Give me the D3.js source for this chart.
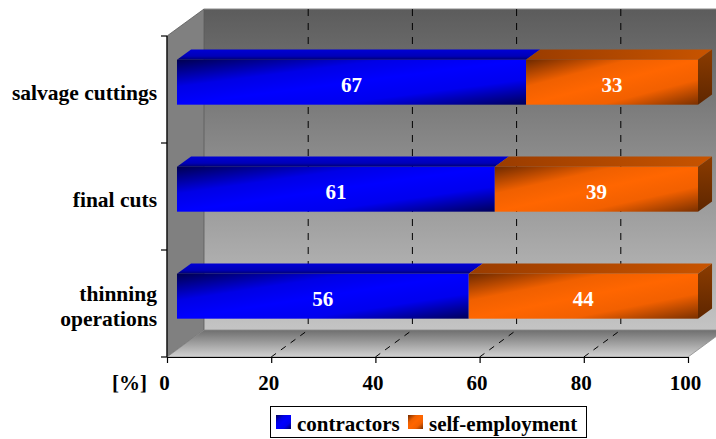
<!DOCTYPE html>
<html>
<head>
<meta charset="utf-8">
<script src="https://cdn.jsdelivr.net/npm/d3@7"></script>
<style>
  html, body { margin: 0; padding: 0; background: #fff; }
  svg { display: block; }
  text { font-family: "Liberation Serif", "Times New Roman", serif; font-weight: bold; }
</style>
</head>
<body>
<svg id="chart" width="716" height="439"></svg>
<script>
// ---- data ----
const categories = ["salvage cuttings", "final cuts", "thinning\noperations"];
const contractors = [67, 61, 56];
const selfEmployment = [33, 39, 44];
const seriesNames = ["contractors", "self-employment"];
const xTicks = [0, 20, 40, 60, 80, 100];
const gridValues = [20, 40, 60, 80];
const axisUnit = "[%]";

// ---- layout ----
const svg = d3.select("#chart");
const x = d3.scaleLinear().domain([0, 100]).range([167, 688]);
const y = d3.scaleBand().domain(categories).range([36, 357]);
const DX = 37, DY = -27;           // depth offset of back wall
const F1 = 0.27, F2 = 0.65;        // bar front/back depth fraction
const barFrac = 0.42;
const yFloor = 357, yTop = 36;

const P = (v, yy, f) => [x(v) + f * DX, yy + f * DY];
const poly = pts => pts.map(p => p.join(",")).join(" ");

const defs = svg.append("defs");
function lin(id, attrs, stops) {
  const g = defs.append("linearGradient").attr("id", id);
  Object.entries(attrs).forEach(([k, v]) => g.attr(k, v));
  stops.forEach(([o, c]) => g.append("stop").attr("offset", o).attr("stop-color", c));
}
lin("gWall", {gradientUnits: "userSpaceOnUse", x1: 0, y1: yTop + DY, x2: 0, y2: yFloor + DY},
    [[0, "#5c5c5c"], [1, "#c4c4c4"]]);
lin("gFloor", {gradientUnits: "userSpaceOnUse", x1: 0, y1: yFloor + DY, x2: 0, y2: yFloor},
    [[0, "#6e6e6e"], [1, "#d2d2d2"]]);
lin("gBlueFront", {x1: 0, y1: 0, x2: 1, y2: 1},
    [[0, "#000050"], [0.3, "#0000e6"], [0.5, "#0000ff"], [0.72, "#0000ee"], [1, "#00005a"]]);
lin("gBlueTop", {x1: 0, y1: 1, x2: 0, y2: 0},
    [[0, "#000070"], [0.35, "#0000b8"], [1, "#0000d4"]]);
lin("gOrangeFront", {x1: 0, y1: 0, x2: 1, y2: 1},
    [[0, "#6e2a00"], [0.3, "#f06000"], [0.5, "#ff6600"], [0.72, "#f26000"], [1, "#7a3000"]]);
lin("gOrangeTop", {x1: 0, y1: 0, x2: 1, y2: 0},
    [[0, "#9a3c00"], [1, "#c85400"]]);
lin("gOrangeSide", {x1: 0, y1: 0, x2: 0, y2: 1},
    [[0, "#8c3c00"], [1, "#5e2600"]]);

// ---- walls ----
svg.append("rect")
  .attr("x", x(0) + DX).attr("y", yTop + DY)
  .attr("width", x(100) - x(0)).attr("height", yFloor - yTop)
  .attr("fill", "url(#gWall)");
svg.append("polygon")
  .attr("points", poly([[x(0), yTop], [x(0) + DX, yTop + DY], [x(0) + DX, yFloor + DY], [x(0), yFloor]]))
  .attr("fill", "#808080").attr("stroke", "#5a5a5a").attr("stroke-width", 0.8);
svg.append("polygon")
  .attr("points", poly([P(0, yFloor, 0), P(100, yFloor, 0), P(100, yFloor, 1), P(0, yFloor, 1)]))
  .attr("fill", "url(#gFloor)").attr("stroke", "#8a8a8a").attr("stroke-width", 0.8);
svg.append("line")
  .attr("x1", x(0) + DX).attr("x2", x(100) + DX).attr("y1", yTop + DY).attr("y2", yTop + DY)
  .attr("stroke", "#8a8a8a");

// gridlines
svg.append("g").selectAll("line").data(gridValues).join("line")
  .attr("x1", d => x(d) + DX).attr("x2", d => x(d) + DX)
  .attr("y1", yTop + DY).attr("y2", yFloor + DY)
  .attr("stroke", "#000").attr("stroke-width", 1).attr("stroke-dasharray", "7,7");
svg.append("g").selectAll("line").data(gridValues).join("line")
  .attr("x1", d => x(d)).attr("y1", yFloor)
  .attr("x2", d => x(d) + DX).attr("y2", yFloor + DY)
  .attr("stroke", "#000").attr("stroke-width", 1).attr("stroke-dasharray", "6,6");

// ---- bars ----
const rows = categories.map((c, i) => ({c, a: contractors[i], b: selfEmployment[i]}));
const gBars = svg.append("g");
rows.forEach(r => {
  const yc = y(r.c) + y.bandwidth() / 2;
  const h = y.bandwidth() * barFrac;
  const t = yc - h / 2, bt = yc + h / 2;
  const segs = [
    {v0: 0, v1: r.a, front: "url(#gBlueFront)", top: "url(#gBlueTop)", val: r.a},
    {v0: r.a, v1: r.a + r.b, front: "url(#gOrangeFront)", top: "url(#gOrangeTop)", val: r.b}
  ];
  segs.forEach(s => {
    gBars.append("polygon")
      .attr("points", poly([P(s.v0, t, F1), P(s.v1, t, F1), P(s.v1, t, F2), P(s.v0, t, F2)]))
      .attr("fill", s.top);
  });
  const last = segs[segs.length - 1];
  gBars.append("polygon")
    .attr("points", poly([P(last.v1, t, F1), P(last.v1, t, F2), P(last.v1, bt, F2), P(last.v1, bt, F1)]))
    .attr("fill", "url(#gOrangeSide)");
  segs.forEach(s => {
    const p0 = P(s.v0, t, F1), p1 = P(s.v1, bt, F1);
    gBars.append("rect")
      .attr("x", p0[0]).attr("y", p0[1])
      .attr("width", p1[0] - p0[0]).attr("height", p1[1] - p0[1])
      .attr("fill", s.front);
    gBars.append("text")
      .attr("x", (p0[0] + p1[0]) / 2).attr("y", (p0[1] + p1[1]) / 2 + 9.5)
      .attr("text-anchor", "middle").attr("fill", "#fff").attr("font-size", 21)
      .text(s.val);
  });
});

// ---- axes ----
svg.append("line").attr("x1", x(0)).attr("x2", x(0)).attr("y1", yTop).attr("y2", yFloor)
  .attr("stroke", "#000").attr("stroke-width", 1.2);
const yTickPos = categories.map(c => y(c)).concat([yFloor]);
svg.append("g").selectAll("line").data(yTickPos).join("line")
  .attr("x1", x(0) - 6).attr("x2", x(0)).attr("y1", d => d).attr("y2", d => d)
  .attr("stroke", "#000").attr("stroke-width", 1.2);

const xAxis = svg.append("g").attr("transform", `translate(0,${yFloor})`)
  .call(d3.axisBottom(x).tickValues(xTicks).tickSizeInner(6).tickSizeOuter(0));
xAxis.select(".domain").attr("stroke", "#000").attr("stroke-width", 1.2);
xAxis.selectAll(".tick line").attr("stroke", "#000").attr("stroke-width", 1.2);
xAxis.selectAll(".tick text")
  .attr("y", 33).attr("dy", 0).attr("x", -3)
  .attr("fill", "#000").attr("font-size", 21)
  .attr("font-family", "'Liberation Serif','Times New Roman',serif").attr("font-weight", "bold");

svg.append("text").attr("x", 147).attr("y", 390).attr("text-anchor", "end")
  .attr("font-size", 21).attr("fill", "#000").text(axisUnit);

// category labels
categories.forEach(c => {
  const lines = c.split("\n");
  const yc = y(c) + y.bandwidth() / 2 + 10;
  const lh = 24.5;
  const t = svg.append("text").attr("text-anchor", "end").attr("font-size", 21.5).attr("fill", "#000");
  lines.forEach((ln, i) => {
    t.append("tspan").attr("x", 157)
      .attr("y", yc + (i - (lines.length - 1) / 2) * lh).text(ln);
  });
});

// ---- legend ----
const lg = svg.append("g");
lg.append("rect").attr("x", 270.5).attr("y", 406.5).attr("width", 316).attr("height", 31)
  .attr("fill", "#fff").attr("stroke", "#000").attr("stroke-width", 1);
const legendItems = [
  {name: seriesNames[0], fill: "url(#gBlueFront)", sx: 276, tx: 297},
  {name: seriesNames[1], fill: "url(#gOrangeFront)", sx: 408, tx: 429}
];
legendItems.forEach(it => {
  lg.append("rect").attr("x", it.sx).attr("y", 415).attr("width", 15).attr("height", 14).attr("fill", it.fill);
  lg.append("text").attr("x", it.tx).attr("y", 431).attr("font-size", 21).attr("fill", "#000").text(it.name);
});
</script>
</body>
</html>
